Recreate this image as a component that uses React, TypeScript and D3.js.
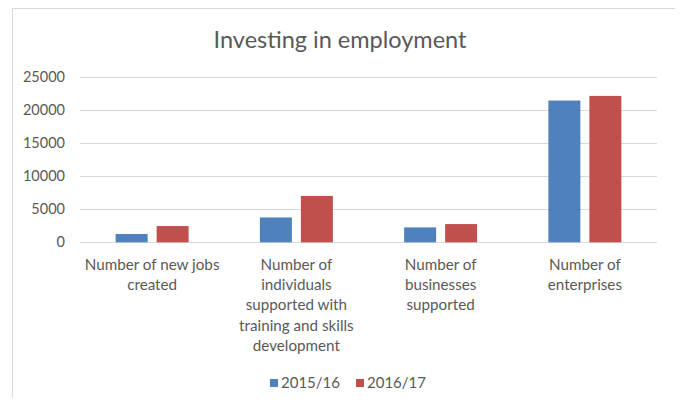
import { useRef, useEffect } from "react";
import * as d3 from "d3";

const categories = [
  ["Number of new jobs", "created"],
  ["Number of", "individuals", "supported with", "training and skills", "development"],
  ["Number of", "businesses", "supported"],
  ["Number of", "enterprises"],
];
const seriesNames = ["2015/16", "2016/17"];
const values2015 = [1250, 3750, 2250, 21400];
const values2016 = [2450, 7000, 2750, 22100];
const yTicks = [0, 5000, 10000, 15000, 20000, 25000];
const colors = ["#4F81BD", "#C0504D"];

const W = 683;
const H = 406;
const FONT = "Lato, 'Open Sans', sans-serif";
const TEXT = "#595959";

export default function App() {
  const svgRef = useRef<SVGSVGElement>(null);

  useEffect(() => {
    if (!svgRef.current) return;
    const svg = d3.select(svgRef.current);
    svg.selectAll("*").remove();

    // chart frame
    svg.append("rect")
      .attr("x", 12.5).attr("y", 8.5)
      .attr("width", 664).attr("height", 402)
      .attr("fill", "#fff")
      .attr("stroke", "#d9d9d9");

    svg.append("text")
      .attr("x", 340).attr("y", 48)
      .attr("text-anchor", "middle")
      .attr("font-family", FONT)
      .attr("font-size", 23.5)
      .attr("fill", TEXT)
      .text("Investing in employment");

    const left = 80, right = 657, top = 76.7, bottom = 242.3;
    const y = d3.scaleLinear().domain([0, 25000]).range([bottom, top]);
    const idx = categories.map((_, i) => String(i));
    const x0 = d3.scaleBand().domain(idx).range([left, right]).padding(0);
    const groupW = 73;
    const x1 = d3.scaleBand().domain(seriesNames).range([0, groupW]).paddingInner(0.2195).paddingOuter(0);

    // gridlines
    svg.append("g")
      .selectAll("line")
      .data(yTicks)
      .join("line")
      .attr("x1", left).attr("x2", right)
      .attr("y1", (d) => Math.round(y(d)) + 0.5)
      .attr("y2", (d) => Math.round(y(d)) + 0.5)
      .attr("stroke", "#d9d9d9");

    svg.append("g")
      .selectAll("text")
      .data(yTicks)
      .join("text")
      .attr("x", 65)
      .attr("y", (d) => y(d) + 5)
      .attr("text-anchor", "end")
      .attr("font-family", FONT)
      .attr("font-size", 14.5)
      .attr("fill", TEXT)
      .text((d) => String(d));

    const data = idx.map((c, i) => ({ c, vals: [values2015[i], values2016[i]] }));
    const groups = svg.append("g")
      .selectAll("g")
      .data(data)
      .join("g")
      .attr("transform", (d) => `translate(${x0(d.c)! + (x0.bandwidth() - groupW) / 2},0)`);

    groups.selectAll("rect")
      .data((d) => d.vals.map((v, j) => ({ v, s: seriesNames[j], j })))
      .join("rect")
      .attr("x", (d) => x1(d.s)!)
      .attr("width", x1.bandwidth())
      .attr("y", (d) => y(d.v))
      .attr("height", (d) => bottom - y(d.v))
      .attr("fill", (d) => colors[d.j]);

    // category labels
    const lab = svg.append("g")
      .selectAll("text")
      .data(categories)
      .join("text")
      .attr("text-anchor", "middle")
      .attr("font-family", FONT)
      .attr("font-size", 15.2)
      .attr("fill", TEXT);
    lab.each(function (lines, i) {
      const cx = x0(String(i))! + x0.bandwidth() / 2;
      d3.select(this)
        .selectAll("tspan")
        .data(lines)
        .join("tspan")
        .attr("x", cx)
        .attr("y", (_, k) => 270 + k * 20.2)
        .text((t) => t);
    });

    // legend
    const legendX = [270, 356];
    const leg = svg.append("g")
      .selectAll("g")
      .data(seriesNames)
      .join("g")
      .attr("transform", (_, i) => `translate(${legendX[i]},379)`);
    leg.append("rect")
      .attr("width", 8).attr("height", 8)
      .attr("fill", (_, i) => colors[i]);
    leg.append("text")
      .attr("x", 11).attr("y", 9)
      .attr("font-family", FONT)
      .attr("font-size", 15)
      .attr("fill", TEXT)
      .text((d) => d);
  }, []);

  return (
    <div style={{ width: W, height: H, margin: -8 }}>
      <svg ref={svgRef} width={W} height={H} style={{ display: "block" }} />
    </div>
  );
}
